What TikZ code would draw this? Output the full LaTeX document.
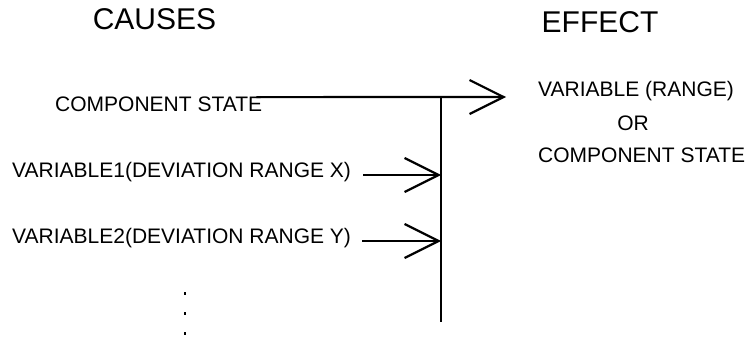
\documentclass[tikz,border=0pt]{standalone}
\usepackage{fontspec}
\setmainfont{Liberation Sans}
\usetikzlibrary{arrows.meta}
\begin{document}
\begin{tikzpicture}[x=1pt,y=-1pt,
  title/.style={font=\fontsize{30}{34}\selectfont, inner sep=0pt, anchor=base},
  lbl/.style={font=\fontsize{21}{24}\selectfont, inner sep=0pt, anchor=base west},
  conn/.style={line width=2.2pt, -{Straight Barb[length=34pt,width=34pt,line width=2.2pt]}},
  bar/.style={line width=2.2pt},
  dot/.style={line width=1.3pt}]
\useasboundingbox (0,0) rectangle (753,337);
\fill[white] (0,0) rectangle (753,337);

\node[title] (causes) at (154.5,30) {CAUSES};
\node[title] (effect) at (600,33) {EFFECT};

\node[lbl] (cs) at (55,112) {COMPONENT STATE};
\node[lbl] (v1) at (12,177) {VARIABLE1(DEVIATION RANGE X)};
\node[lbl] (v2) at (12,243) {VARIABLE2(DEVIATION RANGE Y)};

\node[lbl] (er) at (538,97) {VARIABLE (RANGE)};
\node[lbl, anchor=base] (or) at (633,130) {OR};
\node[lbl] (ecs) at (538,162) {COMPONENT STATE};

\coordinate (top) at (441,97);
\coordinate (bot) at (441,322);
\coordinate (tip) at (506,97);
\coordinate (j1) at (441,175);
\coordinate (j2) at (441,241);
\coordinate (s1) at (363,175);
\coordinate (s2) at (362,241);

\draw[conn] ([xshift=-6pt]cs.north east) -- (tip);
\draw[bar] (top) -- (bot);
\draw[conn] (s1) -- (j1);
\draw[conn] (s2) -- (j2);

\coordinate (d1) at (185,292);
\coordinate (d2) at (185,312);
\coordinate (d3) at (185,332);
\draw[dot] (d1) -- ++(0,3);
\draw[dot] (d2) -- ++(0,3);
\draw[dot] (d3) -- ++(0,3);
\end{tikzpicture}
\end{document}
